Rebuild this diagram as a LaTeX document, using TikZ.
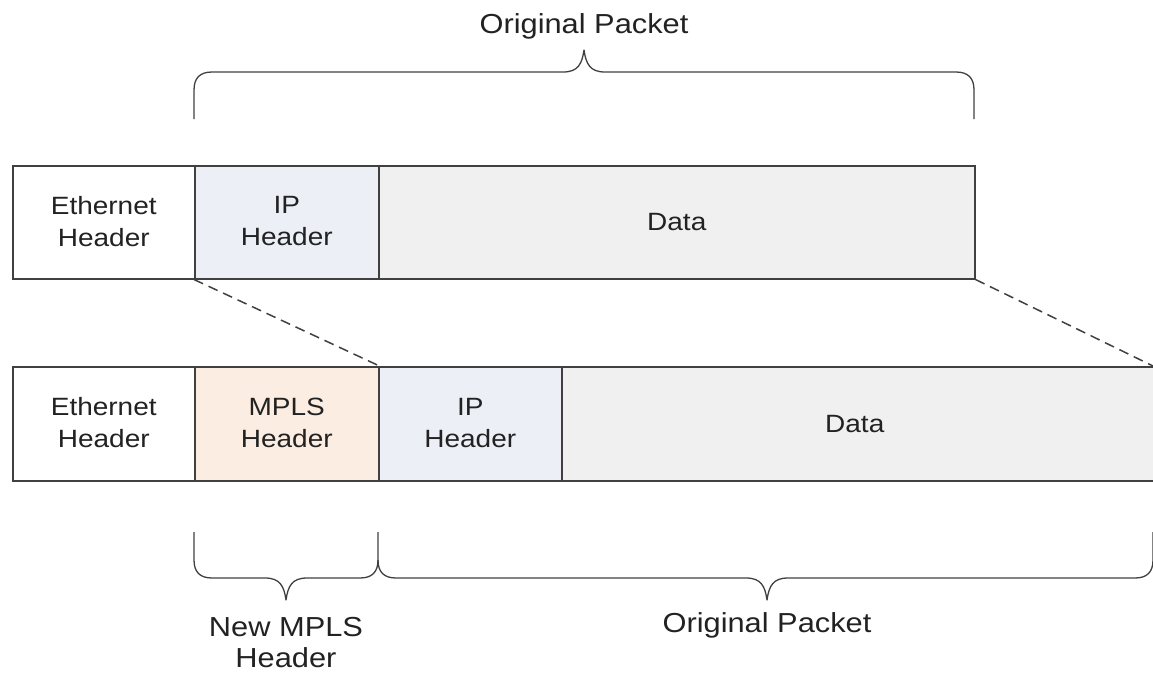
\documentclass[tikz,border=0pt]{standalone}
\usepackage{fontspec}
\setmainfont{Liberation Sans}[FakeStretch=1.12]
\definecolor{edgec}{HTML}{404040}
\definecolor{textc}{HTML}{222222}
\definecolor{ipfill}{HTML}{ECEFF5}
\definecolor{mplsfill}{HTML}{FCEDE2}
\definecolor{datafill}{HTML}{F0F0F0}
\tikzset{
  cell/.style={draw=edgec, line width=1.5pt, inner sep=0pt, anchor=north west,
    align=center, text=textc, font=\fontsize{25}{32}\selectfont},
  dashline/.style={draw=edgec, line width=1.5pt, dash pattern=on 10pt off 6pt},
  bracel/.style={draw=edgec, line width=1.3pt, line join=round},
  label/.style={text=textc, font=\fontsize{27.5}{31}\selectfont, align=center, anchor=base}
}
\begin{document}
\begin{tikzpicture}[x=1pt, y=-1pt]
\useasboundingbox (0,0) rectangle (1153,673);

% original packet
\node[cell, fill=white,    minimum width=182pt, minimum height=113pt] (eth1)  at (12,165)  {Ethernet\\Header\rule[-2pt]{0pt}{1pt}};
\node[cell, fill=ipfill,   minimum width=184pt, minimum height=113pt] (ip1)   at (194,165) {IP\\Header\rule[-2pt]{0pt}{1pt}};
\node[cell, fill=datafill, minimum width=596pt, minimum height=113pt] (data1) at (378,165) {Data};

% labelled packet
\node[cell, fill=white,    minimum width=182pt, minimum height=114pt] (eth2)  at (12,366)  {Ethernet\\Header\rule[-2pt]{0pt}{1pt}};
\node[cell, fill=mplsfill, minimum width=184pt, minimum height=114pt] (mpls)  at (194,366) {MPLS\\Header\rule[-2pt]{0pt}{1pt}};
\node[cell, fill=ipfill,   minimum width=183pt, minimum height=114pt] (ip2)   at (378,366) {IP\\Header\rule[-2pt]{0pt}{1pt}};
\node[cell, fill=datafill, minimum width=604pt, minimum height=114pt, text width=592pt] (data2) at (561,366) {Data\hspace*{18pt}};

% expansion lines
\coordinate (edge) at (1153,366);
\draw[dashline] (ip1.south west) -- (mpls.north east);
\draw[dashline] (data1.south east) -- (edge);

% brace over the original packet
\draw[bracel] (194,119) -- (194,90) .. controls (194,78) and (200,72) .. (212,72)
  -- (563,72) .. controls (578,72) and (582,64) .. (584,50)
  .. controls (586,64) and (590,72) .. (605,72)
  -- (956,72) .. controls (968,72) and (974,78) .. (974,90) -- (974,119);
\node[label] (toplab) at (584,33) {Original Packet};

% braces under the labelled packet
\draw[bracel] (194,532) -- (194,560) .. controls (194,572) and (200,578) .. (212,578)
  -- (265,578) .. controls (280,578) and (284,586) .. (286,600)
  .. controls (288,586) and (292,578) .. (307,578)
  -- (360,578) .. controls (372,578) and (378,572) .. (378,560) -- (378,532);
\draw[bracel] (378,560) .. controls (378,572) and (384,578) .. (396,578)
  -- (746,578) .. controls (761,578) and (765,586) .. (767,600)
  .. controls (769,586) and (773,578) .. (788,578)
  -- (1135,578) .. controls (1147,578) and (1153,572) .. (1153,560) -- (1153,532);
\node[label] (newlab) at (286,667) {New MPLS\\Header};
\node[label] (origlab) at (767,632) {Original Packet};
\end{tikzpicture}
\end{document}
